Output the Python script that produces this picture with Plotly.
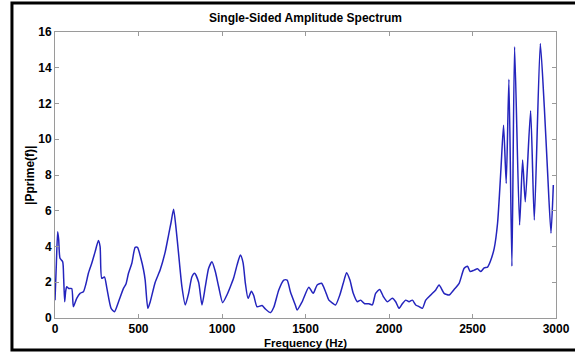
import plotly.graph_objects as go

# Data
freq_hz = [0, 8, 16, 22, 30, 46, 52, 58, 64, 70, 82, 100, 110, 130, 150, 170, 185, 200, 220, 240,
           260, 270, 280, 296, 310, 336, 356, 380, 410, 425, 440, 460, 480, 494, 514, 530, 540, 556,
           570, 600, 630, 660, 680, 694, 710, 725, 740, 760, 780, 800, 820, 836, 860, 880, 900, 920,
           940, 960, 980, 1004, 1030, 1050, 1070, 1090, 1110, 1126, 1140, 1156, 1176, 1190, 1210,
           1240, 1260, 1290, 1310, 1340, 1370, 1390, 1410, 1440, 1450, 1480, 1520, 1546, 1570, 1596,
           1620, 1640, 1660, 1680, 1706, 1726, 1746, 1766, 1786, 1810, 1830, 1854, 1880, 1900, 1920,
           1944, 1966, 1990, 2020, 2040, 2060, 2080, 2100, 2120, 2140, 2160, 2180, 2200, 2220, 2250,
           2280, 2300, 2330, 2360, 2390, 2420, 2450, 2470, 2486, 2510, 2530, 2550, 2570, 2590, 2606,
           2630, 2650, 2670, 2686, 2702, 2718, 2736, 2752, 2782, 2800, 2816, 2848, 2870, 2906, 2930,
           2950, 2970, 2984]
amplitude = [1.0, 3.0, 4.83, 4.4, 3.34, 3.15, 2.2, 0.91, 1.5, 1.75, 1.65, 1.65, 0.63, 1.1, 1.38, 1.47,
             1.9, 2.5, 3.06, 3.7, 4.33, 4.0, 2.22, 2.3, 1.7, 0.54, 0.35, 0.9, 1.66, 1.9, 2.5, 3.06,
             3.95, 3.95, 3.34, 2.7, 2.12, 0.54, 0.9, 2.0, 2.7, 3.7, 4.64, 5.3, 6.08, 5.0, 3.6, 1.75,
             0.73, 1.38, 2.31, 2.5, 2.0, 0.73, 1.75, 2.78, 3.15, 2.6, 1.75, 0.86, 1.3, 1.75, 2.25,
             2.96, 3.52, 3.1, 1.94, 1.1, 1.5, 1.26, 0.63, 0.7, 0.5, 0.3, 0.6, 1.57, 2.12, 2.12, 1.45,
             0.7, 0.45, 0.91, 1.72, 1.38, 1.85, 1.94, 1.47, 1.0, 0.85, 0.73, 1.3, 1.94, 2.53, 2.12,
             1.38, 0.91, 1.0, 0.8, 0.8, 0.73, 1.38, 1.6, 1.2, 0.91, 1.1, 0.91, 0.54, 0.8, 1.0, 0.91,
             1.0, 0.73, 0.64, 0.54, 1.0, 1.29, 1.57, 1.85, 1.38, 1.29, 1.6, 1.94, 2.78, 2.9, 2.6,
             2.68, 2.75, 2.6, 2.8, 2.85, 3.15, 3.9, 5.3, 8.28, 10.79, 7.53, 13.35, 2.9, 15.17, 5.2,
             8.84, 6.5, 11.6, 5.48, 15.36, 11.8, 8.1, 4.74, 7.44]

x_ticks = [0, 500, 1000, 1500, 2000, 2500, 3000]
y_ticks = [0, 2, 4, 6, 8, 10, 12, 14, 16]

title_text = "Single-Sided Amplitude Spectrum"
x_label = "Frequency (Hz)"
y_label = "|Pprime(f)|"

FONT = "Liberation Sans, Arial, sans-serif"

fig = go.Figure()
fig.add_trace(go.Scatter(x=freq_hz, y=amplitude, mode="lines",
                         line=dict(color="#2424bd", width=1.5, shape="spline", smoothing=0.6),
                         showlegend=False))

axis_common = dict(showline=True, linecolor="#9a9a9a", linewidth=1, mirror="ticks",
                   ticks="inside", ticklen=4, tickcolor="#9a9a9a", showgrid=False,
                   zeroline=False, automargin=False,
                   tickfont=dict(family=FONT, size=12, color="black", weight="bold"))

fig.update_xaxes(range=[0, 3000], tickvals=x_ticks, ticklabelstandoff=0, **axis_common)
fig.update_yaxes(range=[0, 16], tickvals=y_ticks, ticklabelstandoff=0, **axis_common)

fig.update_layout(
    width=575, height=352,
    margin=dict(l=55, r=19, t=32, b=34),
    paper_bgcolor="white", plot_bgcolor="white",
    font=dict(family=FONT, color="black"),
)

# Outer black frame
fig.add_shape(type="rect", xref="paper", yref="paper",
              x0=-0.0859, x1=1.06, y0=-0.112, y1=1.101,
              line=dict(color="black", width=3), fillcolor="rgba(0,0,0,0)", layer="below")

fig.add_annotation(text=f"<b>{title_text}</b>", xref="paper", yref="paper",
                   x=0.5, y=(318 - 18) / 286, showarrow=False, yanchor="middle",
                   font=dict(family=FONT, size=12, color="black"))
fig.add_annotation(text=f"<b>{x_label}</b>", xref="paper", yref="paper",
                   x=0.5, y=(318 - 343) / 286, showarrow=False, yanchor="middle",
                   font=dict(family=FONT, size=11.5, color="black"))
fig.add_annotation(text=f"<b>{y_label}</b>", xref="paper", yref="paper",
                   x=(30 - 55) / 500.6, y=0.5, showarrow=False, textangle=-90,
                   xanchor="center", yanchor="middle",
                   font=dict(family=FONT, size=12, color="black"))

fig.write_html("out.html")
